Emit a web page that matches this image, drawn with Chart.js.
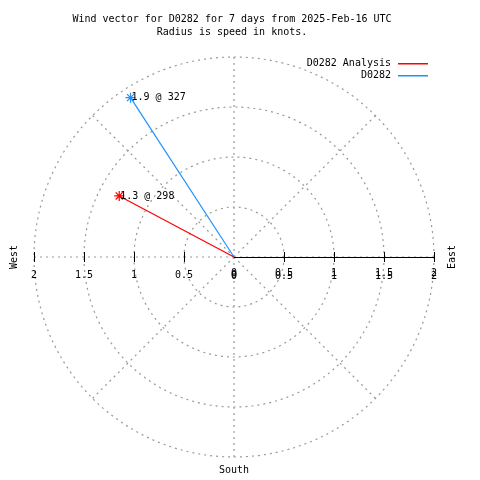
<!DOCTYPE html>
<html>
<head>
<meta charset="utf-8">
<script src="https://cdn.jsdelivr.net/npm/chart.js@4/dist/chart.umd.min.js"></script>
<style>
  html, body { margin: 0; padding: 0; background: #fff; }
  #wrap { width: 480px; height: 480px; }
</style>
</head>
<body>
<div id="wrap"><canvas id="windChart" width="480" height="480"></canvas></div>
<script>
const titleLines = ['Wind vector for D0282 for 7 days from 2025-Feb-16 UTC', 'Radius is speed in knots.'];
const seriesNames = ['D0282 Analysis', 'D0282'];
const speeds = [1.3, 1.9];
const directions = [298, 327];
const seriesColors = ['#ff0000', '#1e90ff'];
const radiusTicks = [0.5, 1, 1.5, 2];
const tickLabels = ['0', '0.5', '1', '1.5', '2'];
const tickValues = [0, 0.5, 1, 1.5, 2];

const FONT = '10px "DejaVu Sans Mono", "Liberation Mono", monospace';
const GRID = '#999999';

// speed/direction -> x (east) / y (north)
function toXY(speed, dir) {
  const a = dir * Math.PI / 180;
  return { x: speed * Math.sin(a), y: speed * Math.cos(a) };
}

const datasets = seriesNames.map((name, i) => ({
  label: name,
  data: [{ x: 0, y: 0 }, toXY(speeds[i], directions[i])],
  borderColor: seriesColors[i],
  backgroundColor: seriesColors[i],
  borderWidth: 1.2,
  showLine: true,
  pointStyle: 'star',
  pointRadius: [0, 5],
  pointBorderWidth: 1.2,
  pointHoverRadius: [0, 5]
}));

const polarGrid = {
  id: 'polarGrid',
  beforeDatasetsDraw(chart) {
    const { ctx, scales: { x, y } } = chart;
    const cx = x.getPixelForValue(0), cy = y.getPixelForValue(0);
    const rMax = radiusTicks[radiusTicks.length - 1];
    ctx.save();
    ctx.strokeStyle = GRID;
    ctx.lineWidth = 1.2;
    ctx.setLineDash([2, 4]);
    radiusTicks.forEach(r => {
      const rp = x.getPixelForValue(r) - cx;
      ctx.beginPath();
      ctx.arc(cx, cy, rp, 0, Math.PI * 2);
      ctx.stroke();
    });
    for (let deg = 0; deg < 360; deg += 45) {
      const p = toXY(rMax, deg);
      ctx.beginPath();
      ctx.moveTo(cx, cy);
      ctx.lineTo(x.getPixelForValue(p.x), y.getPixelForValue(p.y));
      ctx.stroke();
    }
    ctx.setLineDash([]);
    // solid east axis with ticks
    ctx.strokeStyle = '#000';
    ctx.lineWidth = 1;
    ctx.beginPath();
    ctx.moveTo(cx, cy + 0.5);
    ctx.lineTo(x.getPixelForValue(rMax), cy + 0.5);
    ctx.stroke();
    radiusTicks.forEach(r => {
      [r, -r].forEach(v => {
        const px = Math.round(x.getPixelForValue(v)) + 0.5;
        ctx.beginPath();
        ctx.moveTo(px, cy - 5);
        ctx.lineTo(px, cy + 5);
        ctx.stroke();
      });
    });
    ctx.restore();
  },
  afterDatasetsDraw(chart) {
    const { ctx, scales: { x, y } } = chart;
    const cx = x.getPixelForValue(0), cy = y.getPixelForValue(0);
    ctx.save();
    ctx.font = FONT;
    ctx.fillStyle = '#000';
    ctx.textBaseline = 'middle';

    // titles
    ctx.textAlign = 'center';
    ctx.fillText(titleLines[0], 232, 19);
    ctx.fillText(titleLines[1], 232, 32);

    // legend
    ctx.textAlign = 'right';
    seriesNames.forEach((name, i) => {
      const ly = 63 + i * 12;
      ctx.fillStyle = '#000';
      ctx.fillText(name, 391, ly);
      ctx.fillStyle = seriesColors[i];
      ctx.fillRect(398, ly, 30, 1.5);
    });

    // point labels
    ctx.fillStyle = '#000';
    ctx.textAlign = 'left';
    chart.data.datasets.forEach((ds, i) => {
      const end = ds.data[1];
      const px = x.getPixelForValue(end.x), py = y.getPixelForValue(end.y);
      ctx.fillText(speeds[i].toFixed(1) + ' @ ' + directions[i], px + 1, py);
    });

    // radial tick labels (west once, east drawn twice like the overlapping original)
    ctx.textAlign = 'center';
    tickValues.forEach((v, i) => {
      ctx.fillText(tickLabels[i], x.getPixelForValue(-v), cy + 18);
      const px = x.getPixelForValue(v);
      ctx.fillText(tickLabels[i], px, cy + 16);
      ctx.fillText(tickLabels[i], px, cy + 19);
    });

    // compass labels
    ctx.fillText('South', cx, 470);
    ctx.save();
    ctx.translate(14, cy);
    ctx.rotate(-Math.PI / 2);
    ctx.fillText('West', 0, 0);
    ctx.restore();
    ctx.save();
    ctx.translate(452, cy);
    ctx.rotate(-Math.PI / 2);
    ctx.fillText('East', 0, 0);
    ctx.restore();
    ctx.restore();
  }
};

new Chart(document.getElementById('windChart').getContext('2d'), {
  type: 'scatter',
  data: { datasets },
  options: {
    responsive: false,
    animation: false,
    layout: { padding: { left: 34, right: 46, top: 57, bottom: 23 } },
    plugins: {
      legend: { display: false },
      title: { display: false },
      tooltip: { enabled: false }
    },
    scales: {
      x: { type: 'linear', min: -2, max: 2, display: false },
      y: { type: 'linear', min: -2, max: 2, display: false }
    }
  },
  plugins: [polarGrid]
});
</script>
</body>
</html>
